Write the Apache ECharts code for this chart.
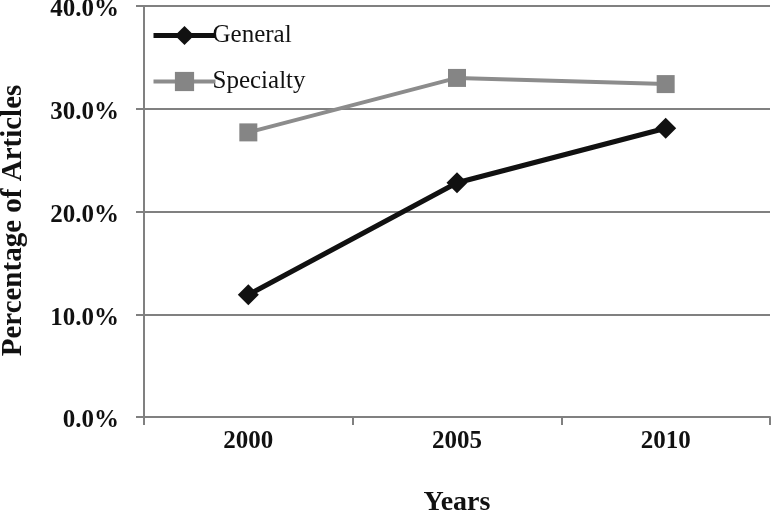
<!DOCTYPE html>
<html>
<head>
<meta charset="utf-8">
<script src="https://cdn.jsdelivr.net/npm/echarts@6/dist/echarts.min.js"></script>
<style>html,body{margin:0;padding:0;background:#fff;}#c{width:774px;height:514px;}</style>
</head>
<body>
<div id="c"></div>
<script>
const years = ['2000', '2005', '2010'];
const generalValues = [11.9, 22.8, 28.1];
const specialtyValues = [27.7, 33.0, 32.4];
const yTicks = [0, 10, 20, 30, 40];

const chart = echarts.init(document.getElementById('c'), null, {renderer: 'canvas'});
const serif = '"Liberation Serif", "DejaVu Serif", serif';
chart.setOption({
  animation: false,
  backgroundColor: '#fff',
  grid: {left: 144, right: 4, top: 6, bottom: 97, containLabel: false, outerBoundsMode: 'none'},
  legend: {
    orient: 'vertical', left: 146, top: 18, itemWidth: 62, itemHeight: 24, itemGap: 21,
    textStyle: {fontFamily: serif, fontSize: 25, color: '#111', padding: [0, 0, 0, -8]},
    data: [
      {name: 'General', lineStyle: {width: 5, color: '#111'}},
      {name: 'Specialty', lineStyle: {width: 4, color: '#8c8c8c'}}
    ]
  },
  xAxis: {
    type: 'category', data: years, boundaryGap: true,
    name: 'Years', nameLocation: 'middle', nameGap: 72,
    nameTextStyle: {fontFamily: serif, fontSize: 28, fontWeight: 'bold', color: '#111'},
    axisLine: {show: true, lineStyle: {color: '#808080', width: 2}},
    axisTick: {show: true, length: 8, lineStyle: {color: '#808080', width: 2}},
    axisLabel: {fontFamily: serif, fontSize: 25, fontWeight: 'bold', color: '#111', margin: 12}
  },
  yAxis: {
    type: 'value', min: yTicks[0], max: yTicks[yTicks.length - 1], interval: 10,
    name: 'Percentage of Articles', nameLocation: 'middle', nameGap: 116,
    nameTextStyle: {fontFamily: serif, fontSize: 29, fontWeight: 'bold', color: '#111', padding: [0, 18, 0, 0]},
    axisLine: {show: true, lineStyle: {color: '#808080', width: 2}},
    axisTick: {show: true, length: 8, lineStyle: {color: '#808080', width: 2}},
    axisLabel: {color: '#111', margin: 25,
      formatter: v => '{t|' + v.toFixed(1) + '%}',
      rich: {t: {fontFamily: serif, fontSize: 25, fontWeight: 'bold', color: '#111', padding: [8, 0, 0, 0]}}},
    splitLine: {show: true, lineStyle: {color: '#808080', width: 2}}
  },
  series: [
    {
      name: 'General', type: 'line', data: generalValues,
      symbol: 'diamond', symbolSize: 21,
      lineStyle: {color: '#111', width: 5},
      itemStyle: {color: '#111'}
    },
    {
      name: 'Specialty', type: 'line', data: specialtyValues,
      symbol: 'rect', symbolSize: 18,
      lineStyle: {color: '#8c8c8c', width: 4},
      itemStyle: {color: '#858585'}
    }
  ]
});
</script>
</body>
</html>
